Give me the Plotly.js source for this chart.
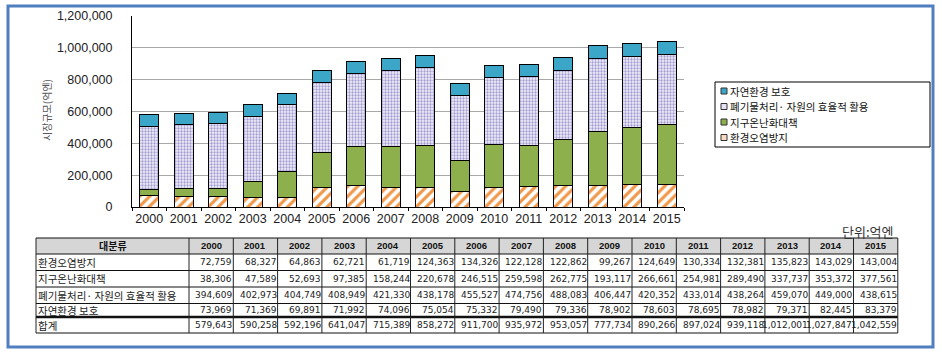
<!DOCTYPE html>
<html>
<head>
<meta charset="utf-8">
<script src="https://cdn.plot.ly/plotly-3.0.1.min.js"></script>
<style>
html,body{margin:0;padding:0;background:#fff;}
#chart{width:942px;height:354px;}
</style>
</head>
<body>
<div id="chart"></div>
<script>
// ---- data ----
const years = ['2000','2001','2002','2003','2004','2005','2006','2007','2008','2009','2010','2011','2012','2013','2014','2015'];
const seriesNames = ['환경오염방지','지구온난화대책','폐기물처리· 자원의 효율적 활용','자연환경 보호'];
const pollution = [72759,68327,64863,62721,61719,124363,134326,122128,122862,99267,124649,130334,132381,135823,143029,143004];
const warming   = [38306,47589,52693,97385,158244,220678,246515,259598,262775,193117,266661,254981,289490,337737,353372,377561];
const waste     = [394609,402973,404749,408949,421330,438178,455527,474756,488083,406447,420352,433014,438264,459070,449000,438615];
const nature    = [73969,71369,69891,71992,74096,75054,75332,79490,79336,78902,78603,78695,78982,79371,82445,83379];
const totals    = [579643,590258,592196,641047,715389,858272,911700,935972,953057,777734,890266,897024,939118,1012001,1027847,1042559];
const tableHeaderLabel = '대분류';
const totalLabel = '합계';
const yTitle = '시장규모(억엔)';
const unitLabel = '단위:억엔';

// ---- helpers ----
const W = 942, H = 354;
const px = x => x / W;
const py = y => (H - y) / H;
const fmt = v => v.toLocaleString('en-US');

const colors = {pollution:'#F0984A', warming:'#8DB04C', waste:'#A29CD2', nature:'#3CA6C8'};
const outline = {color:'#000', width:1};
const traces = [
  {type:'bar', name:seriesNames[0], x:years, y:pollution,
   marker:{color:'#ffffff', line:outline, pattern:{shape:'/', fgcolor:colors.pollution, bgcolor:'#ffffff', size:7, solidity:0.45}}},
  {type:'bar', name:seriesNames[1], x:years, y:warming,
   marker:{color:colors.warming, line:outline}},
  {type:'bar', name:seriesNames[2], x:years, y:waste,
   marker:{color:'#ffffff', line:outline, pattern:{shape:'.', fgcolor:colors.waste, bgcolor:'#F1EFF9', size:3, solidity:0.45}}},
  {type:'bar', name:seriesNames[3], x:years, y:nature,
   marker:{color:colors.nature, line:outline}}
];

const shapes = [];
const annotations = [];

// ---- legend (drawn as a box with swatches) ----
const lgX0 = 715, lgX1 = 930, lgY0 = 82, lgY1 = 147;
shapes.push({type:'rect', xref:'paper', yref:'paper', x0:px(lgX0), x1:px(lgX1), y0:py(lgY1), y1:py(lgY0),
  line:{color:'#000', width:1}, fillcolor:'#ffffff', layer:'above'});
const lgItems = [
  {name:seriesNames[3], fill:colors.nature},
  {name:seriesNames[2], fill:'#E6E3F4'},
  {name:seriesNames[1], fill:colors.warming},
  {name:seriesNames[0], fill:'#F9DCC0'}
];
const lgRowY = [91, 106.5, 122, 137.5];
lgItems.forEach((it,i)=>{
  const cy = lgRowY[i];
  shapes.push({type:'rect', xref:'paper', yref:'paper', x0:px(721), x1:px(727), y0:py(cy+3), y1:py(cy-3),
    line:{color:'#333', width:1}, fillcolor:it.fill, layer:'above'});
  annotations.push({text:it.name, xref:'paper', yref:'paper', x:px(729), y:py(cy), xanchor:'left', yanchor:'middle',
    showarrow:false, borderpad:0, font:{family:'Noto Sans CJK KR', size:10.5, color:'#111'}});
});

// ---- data table (grid + text) ----
const tX0 = 36, labelW = 153, colWd = 44.3;
const colEdges = [tX0, tX0 + labelW];
years.forEach(()=>colEdges.push(colEdges[colEdges.length-1] + colWd));
const tX1 = colEdges[colEdges.length-1];
const rowEdges = [238, 254, 270.5, 287, 303.5, 317, 333];
shapes.push({type:'rect', xref:'paper', yref:'paper', x0:px(tX0), x1:px(tX1), y0:py(rowEdges[1]), y1:py(rowEdges[0]),
  line:{width:0}, fillcolor:'#D6D6D6', layer:'below'});
rowEdges.forEach((y,i)=>{
  const thick = (i === 5);
  shapes.push({type:'line', xref:'paper', yref:'paper', x0:px(tX0), x1:px(tX1), y0:py(y), y1:py(y),
    line:{color:'#111', width: thick ? 2.5 : 1}, layer:'above'});
});
colEdges.forEach(x=>{
  shapes.push({type:'line', xref:'paper', yref:'paper', x0:px(x), x1:px(x), y0:py(rowEdges[0]), y1:py(rowEdges[rowEdges.length-1]),
    line:{color:'#222', width:1}, layer:'above'});
});
const rowMid = i => (rowEdges[i] + rowEdges[i+1]) / 2;
annotations.push({text:'<b>'+tableHeaderLabel+'</b>', xref:'paper', yref:'paper', x:px((colEdges[0]+colEdges[1])/2), y:py(rowMid(0)),
  xanchor:'center', yanchor:'middle', showarrow:false, font:{family:'Noto Sans CJK KR', size:10, color:'#111'}});
years.forEach((yr,j)=>{
  annotations.push({text:'<b>'+yr+'</b>', xref:'paper', yref:'paper', x:px((colEdges[j+1]+colEdges[j+2])/2), y:py(rowMid(0)),
    xanchor:'center', yanchor:'middle', showarrow:false, font:{family:'Liberation Sans, Arial', size:9.5, color:'#111'}});
});
const rowLabels = seriesNames.concat([totalLabel]);
const rowData = [pollution, warming, waste, nature, totals];
rowLabels.forEach((lab,i)=>{
  annotations.push({text:lab, xref:'paper', yref:'paper', x:px(tX0+0.5), y:py(rowMid(i+1)),
    xanchor:'left', yanchor:'middle', showarrow:false, borderpad:0, font:{family:'Noto Sans CJK KR', size:10.5, color:'#222'}});
  rowData[i].forEach((v,j)=>{
    annotations.push({text:fmt(v), xref:'paper', yref:'paper', x:px(colEdges[j+2]), y:py(rowMid(i+1)),
      xanchor:'right', yanchor:'middle', showarrow:false, borderpad:0,
      font:{family:'DejaVu Sans', size:9, color:'#222'}});
  });
});

annotations.push({text:yTitle, xref:'paper', yref:'paper', x:px(46), y:py(110), textangle:-90,
  showarrow:false, xanchor:'center', yanchor:'middle', font:{family:'Noto Sans CJK KR', size:10, color:'#555'}});
annotations.push({text:unitLabel, xref:'paper', yref:'paper', x:px(894), y:py(231),
  showarrow:false, xanchor:'right', yanchor:'middle', borderpad:0, font:{family:'Noto Sans CJK KR', size:13, color:'#333'}});

shapes.push({type:'rect', xref:'paper', yref:'paper', x0:px(8), x1:px(933), y0:py(347), y1:py(6),
  line:{color:'#4F7FBF', width:3}, fillcolor:'rgba(0,0,0,0)', layer:'above'});

const layout = {
  width:W, height:H,
  margin:{l:0,r:0,t:0,b:0},
  paper_bgcolor:'#ffffff', plot_bgcolor:'#ffffff',
  barmode:'stack', bargap:0.45,
  showlegend:false,
  font:{family:'Liberation Sans, Arial, sans-serif', color:'#222'},
  xaxis:{domain:[px(132), px(684)], anchor:'y', type:'category',
         showline:true, linecolor:'#000', linewidth:1,
         ticks:'outside', tickson:'boundaries', ticklen:3, tickcolor:'#000',
         tickangle:0, tickfont:{size:12.5, color:'#222'}, showgrid:false, fixedrange:true},
  yaxis:{domain:[py(207), py(16)], anchor:'x', range:[0,1200000], dtick:200000,
         tickformat:',', showline:true, linecolor:'#000', linewidth:1,
         gridcolor:'#A8A8A8', gridwidth:1, zeroline:false, ticks:'',
         ticklabelstandoff:16,
         tickfont:{size:12.5, color:'#222'}, fixedrange:true},
  annotations:annotations,
  shapes:shapes
};

Plotly.newPlot('chart', traces, layout, {displayModeBar:false, staticPlot:true});
</script>
</body>
</html>
